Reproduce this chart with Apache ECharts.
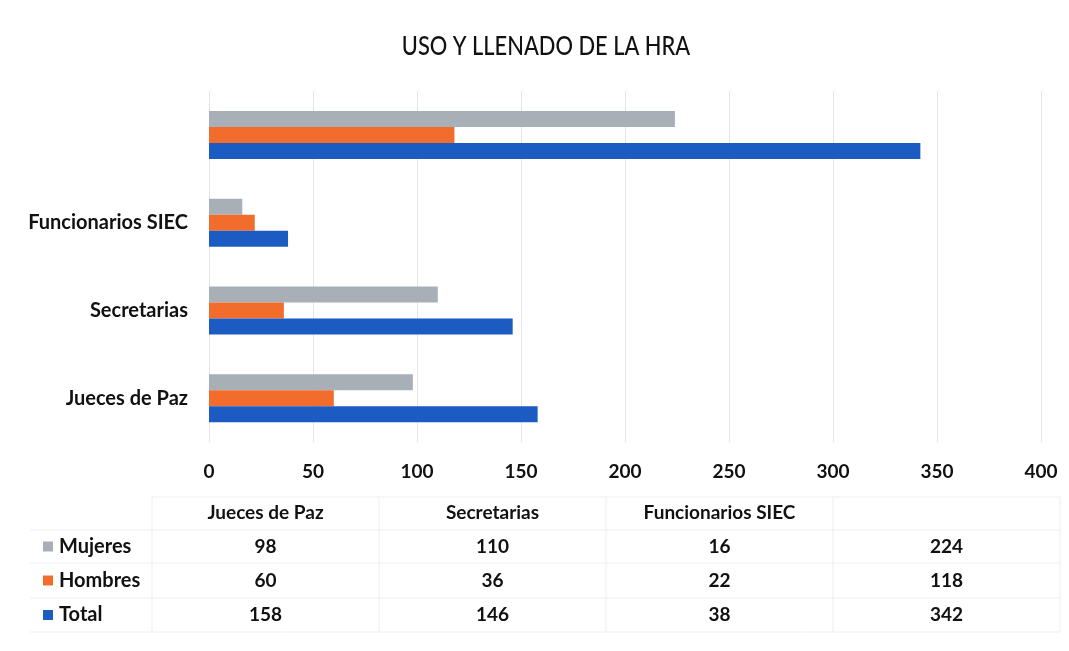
<!DOCTYPE html>
<html>
<head>
<meta charset="utf-8">
<script src="https://cdn.jsdelivr.net/npm/echarts@6/dist/echarts.min.js"></script>
<style>
html,body{margin:0;padding:0;background:#fff;}
#c{width:1069px;height:651px;}
</style>
</head>
<body>
<div id="c"></div>
<script>
const title = 'USO Y LLENADO DE LA HRA';
const categories = ['Jueces de Paz', 'Secretarias', 'Funcionarios SIEC', ''];
const seriesNames = ['Mujeres', 'Hombres', 'Total'];
const mujeres = [98, 110, 16, 224];
const hombres = [60, 36, 22, 118];
const total = [158, 146, 38, 342];
const xTicks = [0, 50, 100, 150, 200, 250, 300, 350, 400];

const colors = {Mujeres: '#a9afb7', Hombres: '#f26d2c', Total: '#1b5bc2'};
const valuesByName = {Mujeres: mujeres, Hombres: hombres, Total: total};
const labelFont = "Lato, 'Open Sans', sans-serif";

const chart = echarts.init(document.getElementById('c'));

// data table built from the arrays
const tableLeft = 152, tableRight = 1060, legendLeft = 40;
const rowLines = [497, 530, 563, 598, 632];
const colW = (tableRight - tableLeft) / categories.length;
const graphic = [];
const lineColor = '#efefef';

graphic.push({type: 'text', x: 546, y: 47, scaleX: 0.84,
  style: {text: title, font: '500 26px ' + labelFont, fill: '#111', align: 'center', verticalAlign: 'middle'}});

rowLines.forEach(function (y, i) {
  graphic.push({type: 'line', shape: {x1: i === 0 ? tableLeft : legendLeft - 10, y1: y, x2: tableRight, y2: y},
    style: {stroke: lineColor, lineWidth: 1}, silent: true});
});
for (let i = 0; i <= categories.length; i++) {
  const x = tableLeft + i * colW;
  graphic.push({type: 'line', shape: {x1: x, y1: rowLines[0], x2: x, y2: rowLines[4]},
    style: {stroke: lineColor, lineWidth: 1}, silent: true});
}
categories.forEach(function (c, i) {
  graphic.push({type: 'text', x: tableLeft + (i + 0.5) * colW, y: (rowLines[0] + rowLines[1]) / 2 - 1,
    style: {text: c, font: 'bold 19px ' + labelFont, fill: '#111', align: 'center', verticalAlign: 'middle'}});
});
seriesNames.forEach(function (n, r) {
  const yc = (rowLines[r + 1] + rowLines[r + 2]) / 2;
  graphic.push({type: 'rect', shape: {x: legendLeft + 3, y: yc - 5, width: 10, height: 10},
    style: {fill: colors[n]}});
  graphic.push({type: 'text', x: legendLeft + 19, y: yc,
    style: {text: n, font: 'bold 20px ' + labelFont, fill: '#111', align: 'left', verticalAlign: 'middle'}});
  valuesByName[n].forEach(function (v, i) {
    graphic.push({type: 'text', x: tableLeft + (i + 0.5) * colW, y: yc,
      style: {text: String(v), font: 'bold 19px ' + labelFont, fill: '#111', align: 'center', verticalAlign: 'middle'}});
  });
});

const order = ['Mujeres', 'Hombres', 'Total'];
chart.setOption({
  animation: false,
  backgroundColor: '#fff',
  grid: {left: 209, right: 28, top: 91, bottom: 209},
  xAxis: {
    type: 'value', min: xTicks[0], max: xTicks[xTicks.length - 1], interval: xTicks[1] - xTicks[0],
    axisLine: {show: false}, axisTick: {show: false},
    splitLine: {lineStyle: {color: '#e4e4e4'}},
    axisLabel: {margin: 20, color: '#111', fontFamily: labelFont, fontWeight: 'bold', fontSize: 19}
  },
  yAxis: {
    type: 'category', data: categories,
    axisLine: {show: false}, axisTick: {show: false},
    axisLabel: {margin: 21, color: '#111', fontFamily: labelFont, fontWeight: 'bold', fontSize: 20}
  },
  series: order.map(function (n) {
    return {name: n, type: 'bar', data: valuesByName[n], barWidth: 16, barGap: '0%',
      itemStyle: {color: colors[n]}};
  }),
  graphic: graphic
});
</script>
</body>
</html>
